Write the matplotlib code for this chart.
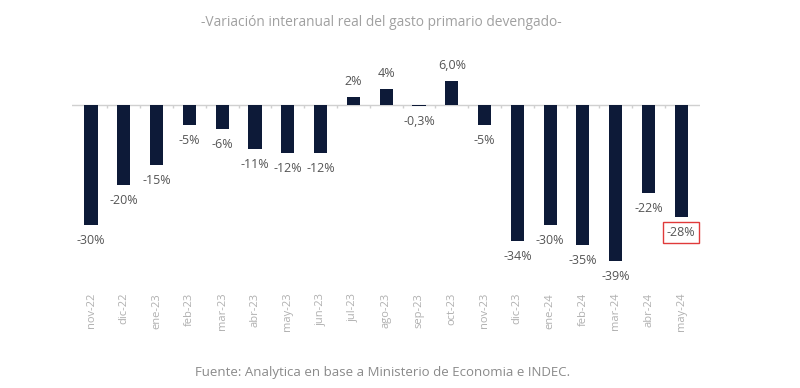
import numpy as np
import matplotlib.pyplot as plt

plt.rcParams['font.family'] = ['Open Sans', 'DejaVu Sans']

months = ['nov-22', 'dic-22', 'ene-23', 'feb-23', 'mar-23', 'abr-23', 'may-23',
          'jun-23', 'jul-23', 'ago-23', 'sep-23', 'oct-23', 'nov-23', 'dic-23',
          'ene-24', 'feb-24', 'mar-24', 'abr-24', 'may-24']
values = [-30, -20, -15, -5, -6, -11, -12, -12, 2, 4, -0.3, 6.0, -5,
          -34, -30, -35, -39, -22, -28]
labels = ['-30%', '-20%', '-15%', '-5%', '-6%', '-11%', '-12%', '-12%', '2%',
          '4%', '-0,3%', '6,0%', '-5%', '-34%', '-30%', '-35%', '-39%', '-22%',
          '-28%']

x = np.arange(len(months))

fig = plt.figure(figsize=(8, 3.88), dpi=100)
ax = fig.add_axes([0.09, 0.317, 0.785, 0.536])

ax.bar(x, values, width=0.4, color='#0d1a38', zorder=3)
ax.axhline(0, color='#d0d0d0', lw=1, zorder=2)
ax.vlines(x[1:] - 0.5, -0.8, 0, color='#d0d0d0', lw=1, zorder=2)

for xi, v, lab in zip(x, values, labels):
    off = 11 if v > 0 else -11
    t = ax.annotate(lab, (xi, v), xytext=(0, off), textcoords='offset points',
                    ha='center', va='center', fontsize=9, color='#555555')
    if lab == '-28%':
        t.set_bbox(dict(boxstyle='square,pad=0.3', fc='white', ec='#e03a3a', lw=1))

ax.set_xlim(-0.58, 18.57)
ax.set_ylim(-40, 12)
ax.set_xticks(x)
ax.set_xticklabels(months, rotation=90, fontsize=8, color='#b0b0b0')
ax.tick_params(axis='x', length=0, pad=20)
ax.set_yticks([])
for s in ax.spines.values():
    s.set_visible(False)

fig.text(0.477, 0.943, '-Variación interanual real del gasto primario devengado-',
         ha='center', va='center', fontsize=9.9, color='#a0a0a0')
fig.text(0.478, 0.041, 'Fuente: Analytica en base a Ministerio de Economia e INDEC.',
         ha='center', va='center', fontsize=9.5, color='#8a8a8a')

fig.savefig('out.png', dpi=100)
